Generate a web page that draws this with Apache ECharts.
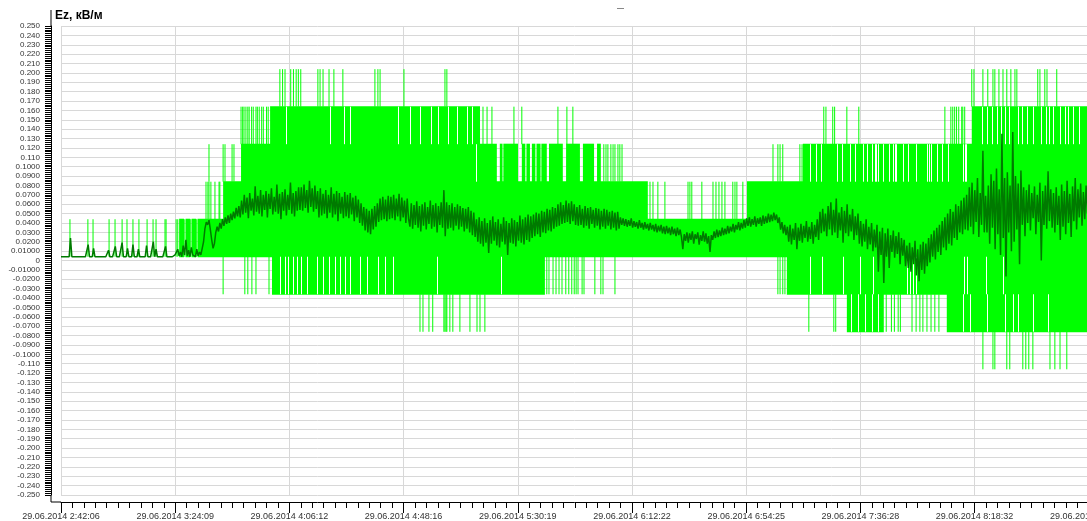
<!DOCTYPE html>
<html><head><meta charset="utf-8">
<script src="https://cdn.jsdelivr.net/npm/echarts@6/dist/echarts.min.js"></script>
<style>html,body{margin:0;padding:0;background:#fff}#c{width:1087px;height:521px}</style>
</head><body><div id="c"></div>
<script>
// ---- axis labels / scale ----
const xTickLabels = ['29.06.2014 2:42:06','29.06.2014 3:24:09','29.06.2014 4:06:12','29.06.2014 4:48:16','29.06.2014 5:30:19','29.06.2014 6:12:22','29.06.2014 6:54:25','29.06.2014 7:36:28','29.06.2014 8:18:32','29.06.2014 9:00:35'];
const xTickStepMin = 42.0533;   // minutes between labelled ticks
const xMaxMin = 385.2;          // minutes from 2:42:06 at the right end of the plot
const yMin = -0.25, yMax = 0.25, yStep = 0.01;

// ---- dark green series (Ez, sampled every 0.5 min from 2:42:06) ----
const darkStepMin = 0.5;
const darkEz = [
0.004,0.004,0.004,0.004,0.004,0.004,0.004,0.024,0.004,0.004,0.004,0.004,0.004,0.004,0.004,0.004,0.004,0.004,0.004,0.004,
0.017,0.004,0.004,0.004,0.013,0.004,0.004,0.004,0.004,0.004,0.004,0.004,0.004,0.004,0.004,0.011,0.004,0.004,0.004,0.004,
0.015,0.004,0.004,0.004,0.004,0.019,0.004,0.004,0.004,0.013,0.004,0.004,0.004,0.017,0.004,0.004,0.004,0.012,0.004,0.004,
0.004,0.004,0.004,0.016,0.004,0.004,0.004,0.004,0.020,0.004,0.012,0.004,0.004,0.004,0.004,0.004,0.004,0.015,0.004,0.004,
0.004,0.004,0.004,0.004,
0.006,0.004,0.012,0.005,0.009,0.004,0.016,0.006,0.022,0.005,0.011,0.004,0.014,0.006,0.008,0.004,0.012,0.005,0.009,0.006,0.013,
0.020,0.034,0.041,0.038,0.043,0.033,0.022,0.013,0.018,0.030,0.036,0.031,0.040,0.034,0.044,0.037,0.046,0.039,0.048,0.040,0.050,0.043,0.052,0.045,0.056,0.047,0.058,
0.046,0.064,0.049,0.070,0.051,0.067,0.045,0.072,0.053,0.066,0.048,0.079,0.052,0.069,0.050,0.075,0.047,0.070,0.054,0.074,0.046,0.071,0.055,0.077,0.049,0.068,0.052,0.081,0.050,0.071,0.044,0.073,0.053,0.076,0.048,0.070,0.054,0.083,0.050,0.072,0.047,0.074,0.053,0.078,
0.054,0.078,0.053,0.081,0.056,0.075,0.051,0.085,0.057,0.077,0.052,0.080,0.055,0.074,0.046,0.077,
0.048,0.071,0.050,0.075,0.045,0.070,0.051,0.078,0.046,0.071,0.049,0.074,0.042,0.072,0.050,0.068,0.045,0.073,
0.047,0.070,0.045,0.072,0.049,0.067,0.042,0.069,0.046,0.065,0.040,
0.061,0.037,0.057,0.032,0.055,0.030,0.053,0.028,0.055,0.033,0.058,0.036,0.061,
0.041,0.066,0.043,0.068,0.044,0.065,0.042,0.069,
0.044,0.068,0.045,0.070,0.043,0.066,0.047,0.071,0.042,0.067,0.046,0.064,0.040,0.066,0.044,
0.036,0.061,0.034,0.059,0.038,0.063,0.035,0.058,0.031,0.060,0.037,0.062,0.033,0.057,0.039,0.064,0.034,0.059,0.036,0.061,0.030,0.058,0.038,0.062,0.035,
0.075,0.026,0.062,
0.034,0.059,0.035,0.061,0.032,0.057,0.037,0.060,0.033,0.058,0.036,0.056,0.031,0.055,0.034,0.057,0.030,0.053,0.027,0.051,0.025,
0.044,0.020,0.046,0.018,0.042,0.015,0.045,0.019,0.040,0.008,0.043,0.018,0.047,0.021,0.041,0.016,0.044,0.014,0.039,0.020,
0.046,0.017,0.042,0.006,0.040,0.019,0.045,0.018,0.043,0.015,0.041,0.021,0.048,0.019,0.044,0.017,0.046,0.022,0.049,0.020,0.047,0.024,
0.049,0.026,0.051,0.028,0.050,0.025,0.053,0.030,0.052,0.029,0.055,0.032,0.054,0.031,0.057,0.034,0.056,0.036,0.060,0.037,
0.062,0.039,0.059,0.040,0.064,0.041,0.061,0.039,0.063,0.042,0.060,0.038,
0.057,0.037,0.059,0.038,0.055,0.035,0.058,0.037,0.056,0.034,0.057,0.039,0.054,0.035,0.056,0.037,0.055,0.033,0.053,0.036,
0.055,0.034,0.054,0.037,0.052,0.033,0.053,0.035,0.051,0.032,0.052,0.034,
0.046,0.038,0.045,0.037,0.044,0.036,0.043,0.037,0.045,0.035,0.042,0.036,0.041,0.034,0.043,0.035,0.040,0.033,0.041,0.034,
0.039,0.032,0.040,0.033,0.038,0.031,0.039,0.030,0.037,0.031,0.038,0.029,0.036,0.028,0.037,0.029,0.035,0.027,0.036,0.028,
0.034,0.026,0.035,0.027,0.033,0.025,
0.012,0.028,0.021,0.030,0.019,0.029,0.022,0.031,0.018,0.028,0.023,0.030,0.017,0.027,0.021,0.031,0.020,0.029,0.018,0.026,0.009,0.027,
0.022,0.031,0.024,0.033,0.025,0.032,0.026,0.035,0.027,0.034,0.028,0.037,0.029,0.036,0.031,0.039,0.030,0.038,0.033,0.041,0.032,0.040,0.034,0.043,0.035,
0.045,0.037,0.046,0.036,0.044,0.038,0.047,0.036,0.045,0.039,0.046,0.037,0.048,0.039,0.047,0.040,0.050,0.041,0.049,0.042,
0.051,0.043,0.049,0.040,0.046,0.033,0.041,0.029,0.038,0.027,
0.036,0.020,0.038,0.017,0.034,0.022,0.040,0.012,0.035,0.021,0.039,0.019,0.037,0.024,0.042,0.020,0.036,0.023,0.041,0.018,0.038,0.025,0.044,0.022,
0.052,0.029,0.055,0.031,0.050,0.026,0.058,0.033,0.062,0.027,0.054,0.030,0.066,0.024,0.051,0.032,0.057,0.019,0.053,0.029,0.060,0.026,0.049,0.031,0.055,0.022,0.047,0.027,0.050,
0.018,0.042,0.015,0.039,0.020,0.044,0.012,0.036,0.017,0.040,0.010,0.033,0.014,0.038,-0.012,0.031,0.006,0.035,-0.024,0.029,
0.004,0.034,-0.008,0.027,0.009,0.032,0.003,0.026,0.007,0.030,-0.004,0.024,0.005,0.022,-0.006,
0.016,-0.008,0.019,-0.012,0.014,-0.004,0.021,-0.016,0.012,-0.022,0.017,-0.010,0.020,-0.014,0.018,
-0.006,0.024,-0.002,0.028,0.004,0.032,0.001,0.035,0.009,0.038,0.006,0.042,0.014,0.046,0.011,0.050,0.018,0.055,0.016,0.052,0.024,0.060,0.022,0.058,0.030,0.064,0.028,0.067,0.033,
0.070,0.032,0.078,0.036,0.083,0.028,0.075,0.041,0.088,0.025,0.072,0.038,0.117,0.030,0.069,
0.030,0.080,0.018,0.092,0.035,0.085,0.012,0.098,0.028,0.076,0.006,0.135,0.024,0.088,-0.017,0.094,0.030,0.080,0.010,0.137,0.020,0.090,0.033,0.082,-0.004,0.096,0.038,0.078,0.026,
0.075,0.040,0.081,0.032,0.072,0.045,0.079,0.028,0.070,0.041,0.083,0.000,0.074,0.038,0.080,0.034,0.095,0.042,0.076,
0.035,0.072,0.030,0.078,0.038,0.069,0.022,0.081,0.036,0.074,0.028,0.085,0.040,0.071,0.025,0.079,0.042,0.088,0.033,0.076,0.046,0.082,0.037,0.073,0.044,0.080,0.050
];

// ---- bright green series: quantised levels (kV/m); time in minutes from 2:42:06 ----
const levelP5 = [0.164, 0.204], levelP4 = [0.124, 0.164], levelP3 = [0.084, 0.124], levelP2 = [0.044, 0.084];
const levelP1 = [0.004, 0.044], levelM1 = [-0.036, 0.004], levelM2 = [-0.076, -0.036], levelM3 = [-0.116, -0.076];

const spikesP5 = [80.6,81.6,82.5,84.6,85.6,86.6,87.4,88.3,94.6,95.4,96.5,98.7,100.5,103.8,115.6,116.7,117.5,126.3,141.4,142.1,
  335.4,336.2,339.5,341.3,343.2,343.9,345.4,346.9,348.3,349.8,351.3,352.0,359.7,360.5,362.3,363.1,366.7];

const fillsP4 = [[77.0,154.3],[335.4,382.6]];
const gapsP4 = [82.9,98.9,104.2,106.6,124.1,128.5,132.2,136.1,138.8,142.6,145.8,149.5,151.3,
  339.1,341.0,342.8,344.7,346.2,347.6,349.1,352.6,353.9,355.7,357.9,361.0,362.8,363.8,365.3,367.9,369.7,370.8,372.6,374.9];
const spikesP4 = [66.3,66.9,67.4,68.1,68.8,69.3,70.2,70.8,71.8,72.3,73.0,73.9,74.5,75.7,76.3,155.4,156.9,158.7,166.8,169.7,183.0,186.3,188.5,
  280.9,281.7,284.2,284.9,289.4,293.8,325.5,327.7,328.4,329.1,329.8,330.6,331.7,332.1,332.8];

const fillsP3 = [[66.3,160.5],[161.6,162.6],[162.9,168.3],[169.7,171.0],[171.4,172.7],[173.4,174.7],[175.1,176.6],[176.9,178.9],
  [179.7,184.8],[186.0,191.1],[192.2,196.3],[197.4,198.8],[273.2,382.6]];
const gapsP3 = [152.8,276.0,278.1,279.8,285.7,287.6,290.5,292.3,295.3,296.8,298.6,299.9,300.3,300.8,302.7,304.9,306.5,307.1,307.6,
  310.0,312.0,314.8,319.0,319.8,320.5,322.6,324.6,326.6,332.1,332.8,333.3];
const spikesP3 = [54.5,59.7,60.4,63.0,63.7,199.9,200.7,201.4,202.5,203.3,204.0,205.1,205.8,206.6,262.2,264.0,264.8,265.8,272.1,272.9];

const fillsP2 = [[59.7,216.1],[252.6,382.6]];
const spikesP2 = [53.4,54.1,54.5,55.2,56.7,58.2,58.5,216.9,218.0,219.8,222.4,230.9,231.6,232.3,236.0,240.1,241.2,242.3,243.4,244.5,
  247.4,248.2,248.9,251.1];

const fillsP1 = [[43.5,45.3],[45.9,47.6],[48.1,49.8],[50.3,382.6]];
const spikesP1 = [3.3,9.9,11.8,17.7,19.9,22.5,24.3,26.5,28.7,31.7,33.9,35.0,38.3,38.7,42.4,43.0,45.6,47.8,50.0];

const fillsM1 = [[77.7,178.2],[267.3,382.6]];
const gapsM1 = [80.6,82.5,83.7,85.3,86.8,88.3,90.5,94.2,96.6,98.8,100.9,102.7,104.6,106.4,110.1,112.6,116.8,119.3,122.2,138.3,162.0,
  275.8,280.1,288.1,294.2,299.1,311.4,312.6,313.8,315.0,332.4,333.6,340.8,346.8];
const spikesM1 = [59.7,67.7,68.8,70.3,71.8,76.6,178.9,179.7,181.2,182.3,183.4,184.5,185.9,187.0,188.1,189.0,189.7,190.4,191.9,192.6,
  196.6,198.8,199.6,204.0,264.0,264.8,265.8,266.6];

const fillsM2 = [[289.4,303.0],[326.2,382.6]];
const gapsM2 = [291.0,293.6,296.2,298.8,301.0,332.1,334.7,341.0,347.6,350.5,352.4,357.9,363.4];
const spikesM2 = [132.2,133.3,135.5,136.9,141.0,141.4,141.8,142.1,143.2,144.3,146.9,150.6,153.2,154.3,156.1,275.4,284.6,285.3,
  303.9,305.8,306.9,308.3,309.1,313.4,314.9,316.3,317.4,318.9,320.4,321.8,323.3];

const spikesM3 = [339.5,343.2,343.9,348.3,349.4,354.2,355.3,356.4,357.9,364.2,366.0,367.9,370.4];

// ---- build items for the custom series: [t0, t1, lo, hi, kind] kind 0=fill 1=spike 2=gap ----
const fillItems = [], gapItems = [], spikeItems = [];
function addTier(level, fills, gaps, spikes) {
  fills.forEach(f => fillItems.push([f[0], f[1], level[0], level[1], 0]));
  gaps.forEach(t => gapItems.push([t, t, level[0], level[1], 2]));
  spikes.forEach(t => spikeItems.push([t, t, level[0], level[1], 1]));
}
addTier(levelP5, [], [], spikesP5);
addTier(levelP4, fillsP4, gapsP4, spikesP4);
addTier(levelP3, fillsP3, gapsP3, spikesP3);
addTier(levelP2, fillsP2, [], spikesP2);
addTier(levelP1, fillsP1, [], spikesP1);
addTier(levelM1, fillsM1, gapsM1, spikesM1);
addTier(levelM2, fillsM2, gapsM2, spikesM2);
addTier(levelM3, [], [], spikesM3);
const brightItems = fillItems.concat(gapItems, spikeItems);

function renderBright(params, api) {
  const t0 = api.value(0), t1 = api.value(1), lo = api.value(2), hi = api.value(3), kind = api.value(4);
  const a = api.coord([t0, hi]), b = api.coord([t1, lo]);
  if (kind === 0) {
    return {type: 'rect', shape: {x: a[0], y: a[1] - 0.5, width: Math.max(b[0] - a[0], 1), height: b[1] - a[1] + 1},
      style: {fill: '#00ff00'}};
  }
  const x = kind === 2 ? Math.round(a[0]) + 0.5 : a[0];
  return {type: 'line', shape: {x1: x, y1: a[1], x2: x, y2: b[1]},
    style: {stroke: kind === 2 ? '#ffffff' : '#00ff00', lineWidth: 1}};
}

function yLabel(v) {
  const a = Math.abs(v);
  if (a < 1e-9) return '0';
  if (a > 0.1005) return v.toFixed(3);
  if (a < 0.0105) return v.toFixed(5);
  return v.toFixed(4);
}
function xLabel(v) {
  const k = Math.round(v / xTickStepMin);
  return Math.abs(v - k * xTickStepMin) < 0.01 ? (xTickLabels[k] || '') : '';
}

const chart = echarts.init(document.getElementById('c'), null, {renderer: 'canvas'});
chart.setOption({
  animation: false,
  backgroundColor: '#ffffff',
  textStyle: {fontFamily: 'Liberation Sans, Arial, sans-serif'},
  title: {text: 'Ez, кВ/м', left: 50, top: 5,
    textStyle: {fontSize: 12, fontWeight: 'bold', color: '#000', fontFamily: 'Liberation Sans, Arial, sans-serif'}},
  graphic: [
    {type: 'line', shape: {x1: 51, y1: 10, x2: 51, y2: 26}, style: {stroke: '#000', lineWidth: 1}},
    {type: 'line', shape: {x1: 51, y1: 495, x2: 51, y2: 502}, style: {stroke: '#000', lineWidth: 1}},
    {type: 'line', shape: {x1: 51, y1: 502, x2: 61, y2: 502}, style: {stroke: '#000', lineWidth: 1}},
    {type: 'line', shape: {x1: 617, y1: 8.5, x2: 624, y2: 8.5}, style: {stroke: '#888', lineWidth: 1}}
  ],
  grid: {left: 61, top: 26, width: 1046, height: 469, containLabel: false, outerBoundsMode: 'none'},
  xAxis: {
    type: 'value', min: 0, max: xMaxMin, interval: xTickStepMin, offset: 7,
    axisLine: {show: true, onZero: false, lineStyle: {color: '#000', width: 1}},
    axisTick: {show: true, length: 11, lineStyle: {color: '#000'}},
    minorTick: {show: true, splitNumber: 10, length: 6, lineStyle: {color: '#000'}},
    axisLabel: {fontSize: 9, color: '#333', margin: 10, formatter: xLabel, showMaxLabel: false},
    splitLine: {show: true, lineStyle: {color: '#d8d8d8', width: 1}},
    minorSplitLine: {show: false}
  },
  yAxis: {
    type: 'value', min: yMin, max: yMax, interval: yStep, offset: 10,
    axisLine: {show: true, onZero: false, lineStyle: {color: '#000', width: 1}},
    axisTick: {show: true, length: 6, lineStyle: {color: '#000'}},
    minorTick: {show: true, splitNumber: 5, length: 6, lineStyle: {color: '#000'}},
    axisLabel: {fontSize: 8, color: '#333', margin: 11, formatter: yLabel},
    splitLine: {show: true, lineStyle: {color: '#d8d8d8', width: 1}}
  },
  series: [
    {type: 'custom', name: 'Ez raw', renderItem: renderBright, data: brightItems, clip: true,
      encode: {x: [0, 1], y: [2, 3]}, z: 2, silent: true},
    {type: 'line', name: 'Ez', data: darkEz.map((v, i) => [i * darkStepMin, v]), symbol: 'none', showSymbol: false,
      lineStyle: {color: '#007a00', width: 1.5}, z: 3, silent: true, clip: true}
  ]
});
</script>
</body></html>
